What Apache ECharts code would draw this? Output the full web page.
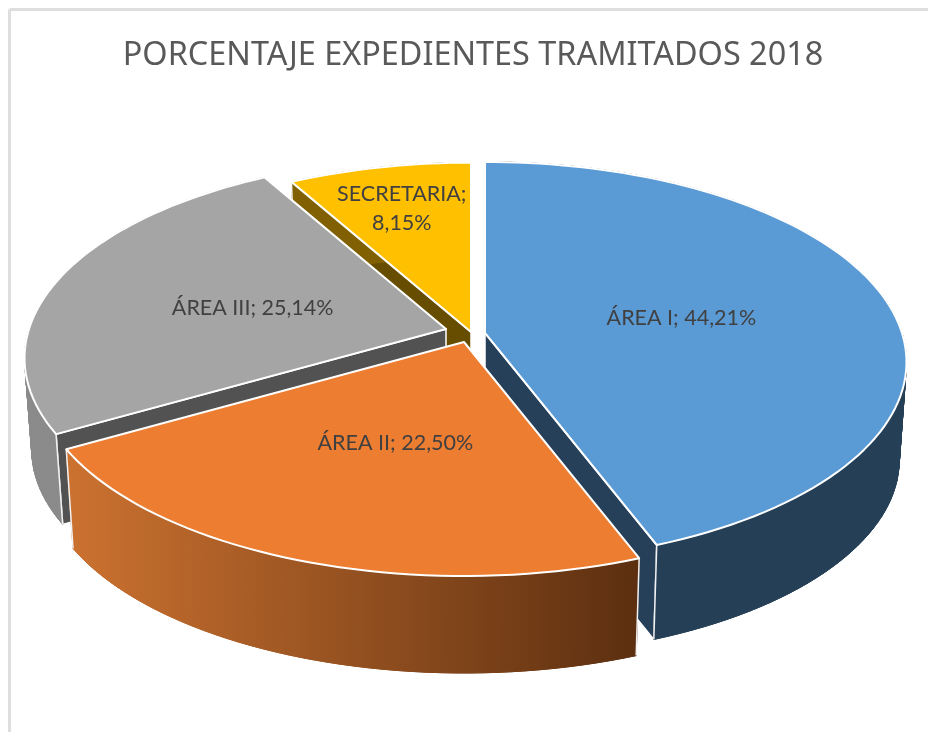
<!DOCTYPE html>
<html>
<head>
<meta charset="utf-8">
<title>Porcentaje expedientes tramitados 2018</title>
<style>
html, body { margin: 0; padding: 0; background: #fff; }
#main { width: 928px; height: 732px; }
</style>
<script src="https://cdn.jsdelivr.net/npm/echarts@6/dist/echarts.min.js"></script>
</head>
<body>
<div id="main"></div>
<script>
// data, clockwise from 12 o'clock
var titleText = 'PORCENTAJE EXPEDIENTES TRAMITADOS 2018';
var names = ['ÁREA I', 'ÁREA II', 'ÁREA III', 'SECRETARIA'];
var values = [44.21, 22.50, 25.14, 8.15];

// colours per slice
var topColors = ['#5b9bd5', '#ed7d31', '#a5a5a5', '#ffc000'];
var cutColors = ['#254058', '#8f4a1c', '#525252', '#664d00'];
var wallColors = [
    ['#243f56', '#243f56'],
    ['#cc7230', '#5c2f10'],
    ['#8a8a8a', '#8f8f8f'],
    ['#806000', '#806000']
];

// the exploded slices do not share a centre in the original
var apexX = [485, 464, 446, 471];
var apexY = [333, 342, 329, 332];
var sliceScale = [1, 1.02, 1, 0.99];
var sliceDepth = [98, 101, 92, 92];
var labelPos = [0.485, 0.45, 0.49, 0.73];
var labelShift = [2, 11, 4, 1];
var labelBreak = [false, false, false, true];
var drawOrder = [3, 2, 0, 1];  // back to front

// perspective of the tilted disc
var RX = 417, RY = 196, K = 0.1455, BOTTOM_SCALE = 0.983;

var total = values.reduce(function (a, b) { return a + b; }, 0);

function sliceAngles(i) {
    var before = 0;
    for (var j = 0; j < i; j++) before += values[j];
    return [before / total * Math.PI * 2, (before + values[i]) / total * Math.PI * 2];
}

// angle -> screen point, f = fraction of radius
function project(i, a, f, bottom) {
    var u = Math.sin(a) * f, v = -Math.cos(a) * f;
    var d = 1 - K * v;
    var s = sliceScale[i] * (bottom ? BOTTOM_SCALE : 1);
    return [
        apexX[i] + RX * u / d * s,
        apexY[i] + (bottom ? sliceDepth[i] : 0) + RY * v / d * s
    ];
}

function arcPoints(i, bottom) {
    var ang = sliceAngles(i), pts = [];
    var n = Math.ceil((ang[1] - ang[0]) / 0.03);
    for (var s = 0; s <= n; s++) {
        pts.push(project(i, ang[0] + (ang[1] - ang[0]) * s / n, 1, bottom));
    }
    return pts;
}

function renderSlice(params, api) {
    var i = api.value(0);
    var rank = drawOrder.indexOf(i);
    var z = rank * 10 + 1;
    var ang = sliceAngles(i);
    var top = arcPoints(i, false), bot = arcPoints(i, true);
    var apexTop = project(i, 0, 0, false), apexBot = project(i, 0, 0, true);
    var last = top.length - 1;
    var kids = [];

    // cut faces, only the ones turned towards the viewer
    var showCut = [Math.sin(ang[0]) < -0.01, Math.sin(ang[1]) > 0.01];
    [0, last].forEach(function (e, n) {
        if (!showCut[n]) return;
        kids.push({
            type: 'polygon', z2: z,
            shape: { points: [apexTop, top[e], bot[e], apexBot] },
            style: { fill: cutColors[i], stroke: '#fff', lineWidth: 1.5 }
        });
    });

    // outer wall, one quad per step
    var xs = top.map(function (p) { return p[0]; });
    var fill = new echarts.graphic.LinearGradient(
        Math.min.apply(null, xs), 0, Math.max.apply(null, xs), 0,
        [{ offset: 0, color: wallColors[i][0] }, { offset: 1, color: wallColors[i][1] }],
        true
    );
    for (var s = 0; s < last; s++) {
        kids.push({
            type: 'polygon', z2: z + 1,
            shape: { points: [top[s], top[s + 1], bot[s + 1], bot[s]] },
            style: { fill: fill, stroke: fill, lineWidth: 1 }
        });
    }

    // white corner lines
    [0, last].forEach(function (e) {
        kids.push({
            type: 'line', z2: z + 2,
            shape: { x1: top[e][0], y1: top[e][1], x2: bot[e][0], y2: bot[e][1] },
            style: { stroke: '#f2f2f2', lineWidth: 1.5 }
        });
    });

    // top face
    kids.push({
        type: 'polygon', z2: z + 3,
        shape: { points: [apexTop].concat(top) },
        style: { fill: topColors[i], stroke: '#fff', lineWidth: 2, lineJoin: 'round' }
    });

    // label
    var mid = project(i, (ang[0] + ang[1]) / 2, labelPos[i], false);
    var pct = values[i].toFixed(2).replace('.', ',') + '%';
    kids.push({
        type: 'text', z2: 100,
        x: mid[0], y: mid[1] + labelShift[i],
        style: {
            text: names[i] + ';' + (labelBreak[i] ? '\n' : ' ') + pct,
            fill: '#404040',
            font: '21.5px Lato',
            lineHeight: 29,
            align: 'center',
            verticalAlign: 'middle'
        }
    });

    return { type: 'group', children: kids };
}

var chart = echarts.init(document.getElementById('main'), null, { renderer: 'canvas' });
chart.setOption({
    animation: false,
    backgroundColor: '#fff',
    title: {
        text: titleText,
        left: 473,
        top: 35,
        textAlign: 'center',
        textStyle: { color: '#595959', fontSize: 32.4, fontWeight: 'normal', fontFamily: 'Noto Sans' }
    },
    graphic: [
        { type: 'line', shape: { x1: 9.5, y1: 9.5, x2: 928, y2: 9.5 }, style: { stroke: '#dedede', lineWidth: 3 } },
        { type: 'line', shape: { x1: 9.5, y1: 9.5, x2: 9.5, y2: 732 }, style: { stroke: '#dedede', lineWidth: 3 } }
    ],
    series: [{
        type: 'custom',
        coordinateSystem: 'none',
        renderItem: renderSlice,
        encode: { value: 1 },
        data: drawOrder.map(function (i) { return [i, values[i]]; })
    }]
}, true);
// title anchor: ref spans 123-823
chart.setOption({ title: { left: 468 } });
</script>
</body>
</html>
